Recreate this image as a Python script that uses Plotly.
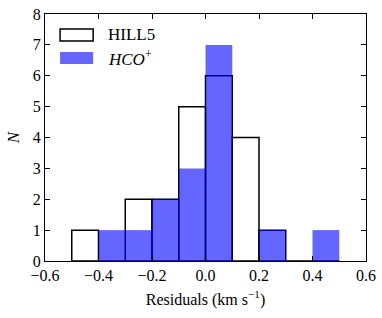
import plotly.graph_objects as go

bin_centers = [-0.45, -0.35, -0.25, -0.15, -0.05, 0.05, 0.15, 0.25, 0.35, 0.45]
hill5_counts = [1, 0, 2, 2, 5, 6, 4, 1, 0, 0]
hco_counts = [0, 1, 1, 2, 3, 7, 0, 1, 0, 1]
series_names = ["HILL5", "<i>HCO</i><sup>+</sup>"]
x_ticks = [-0.6, -0.4, -0.2, 0.0, 0.2, 0.4, 0.6]
y_ticks = [0, 1, 2, 3, 4, 5, 6, 7, 8]

FONT = "Liberation Serif"

fig = go.Figure()
fig.add_trace(go.Bar(
    x=bin_centers, y=hill5_counts, width=0.1, name=series_names[0], showlegend=False,
    marker=dict(color="rgba(0,0,0,0)", line=dict(color="black", width=1.5)),
))
fig.add_trace(go.Bar(
    x=bin_centers, y=hco_counts, width=0.1, name=series_names[1], showlegend=False,
    marker=dict(color="blue", line=dict(width=0)), opacity=0.6,
))

# legend drawn manually (wide matplotlib-style patches)
fig.add_shape(type="rect", xref="paper", yref="paper", x0=0.047, x1=0.150, y0=0.891, y1=0.939,
              line=dict(color="black", width=1.5), fillcolor="rgba(0,0,0,0)")
fig.add_shape(type="rect", xref="paper", yref="paper", x0=0.047, x1=0.150, y0=0.798, y1=0.846,
              line=dict(width=0), fillcolor="rgba(0,0,255,0.6)")
fig.add_annotation(xref="paper", yref="paper", x=0.190, y=0.915, text=series_names[0],
                   showarrow=False, xanchor="left", yanchor="middle", font=dict(family=FONT, size=17))
fig.add_annotation(xref="paper", yref="paper", x=0.190, y=0.822, text=series_names[1],
                   showarrow=False, xanchor="left", yanchor="middle", font=dict(family=FONT, size=17))

axis_common = dict(
    showgrid=False, zeroline=False, showline=True, linecolor="black", linewidth=1,
    mirror="ticks", ticks="inside", ticklen=5, tickcolor="black", automargin=False,
    tickfont=dict(family=FONT, size=16, color="black"),
)
fig.update_layout(
    width=382, height=318,
    margin=dict(l=45, r=16, t=14, b=57),
    paper_bgcolor="white", plot_bgcolor="white",
    barmode="overlay",
    font=dict(family=FONT, color="black"),
    xaxis=dict(range=[-0.6, 0.6], tickvals=x_ticks, tickformat=".1f",
               title=dict(text="Residuals (km s<sup>−1</sup>)", font=dict(size=16, family=FONT), standoff=10),
               **axis_common),
    yaxis=dict(range=[0, 8], tickvals=y_ticks,
               title=dict(text="<i>N</i>", font=dict(size=17, family=FONT), standoff=8),
               **axis_common),
    showlegend=False,
)
fig.write_html("out.html", config={"displayModeBar": False},
               post_script="document.body.style.margin='0';document.body.style.padding='0';")
